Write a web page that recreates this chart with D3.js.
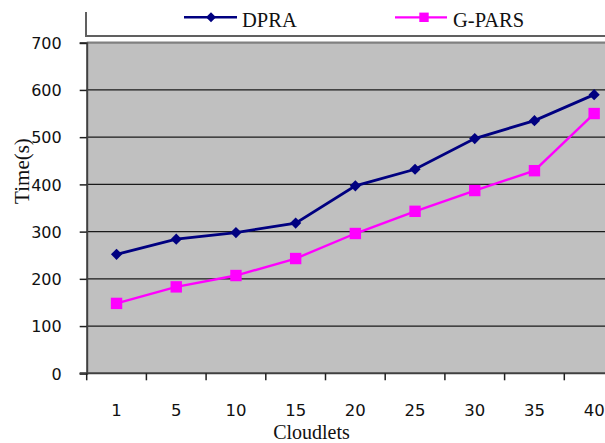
<!DOCTYPE html>
<html>
<head>
<meta charset="utf-8">
<script src="https://cdn.jsdelivr.net/npm/d3@7"></script>
<style>
  html, body { margin: 0; padding: 0; background: #fff; }
  svg { display: block; }
</style>
</head>
<body>
<svg id="chart" width="605" height="443"></svg>
<script>
const categories = ["1", "5", "10", "15", "20", "25", "30", "35", "40"];
const dpra = [252, 284, 298, 318, 397, 432, 497, 535, 590];
const gpars = [148, 183, 207, 243, 296, 343, 387, 429, 550];
const yTicks = [0, 100, 200, 300, 400, 500, 600, 700];
const seriesNames = ["DPRA", "G-PARS"];

(function () {
const svg = d3.select("#chart");
const W = 605, H = 443;
const pLeft = 86.7, bandW = 59.7;
const pRight = pLeft + bandW * categories.length;
const pTop = 42.7, pBottom = 373.3;

const x = d3.scaleBand().domain(categories).range([pLeft, pRight]).padding(0);
const y = d3.scaleLinear().domain([0, 700]).range([pBottom, pTop]);
const cx = d => x(d) + x.bandwidth() / 2;

svg.append("rect").attr("width", W).attr("height", H).attr("fill", "#fff");

// legend box (partially visible)
svg.append("path")
  .attr("d", `M${pLeft - 0.7},12 V36 H${W}`)
  .attr("fill", "none").attr("stroke", "#606060").attr("stroke-width", 2);

// plot background
svg.append("rect")
  .attr("x", pLeft).attr("y", y(700))
  .attr("width", pRight - pLeft).attr("height", y(0) - y(700))
  .attr("fill", "#C0C0C0");

// gridlines
svg.append("g").selectAll("line")
  .data(yTicks.filter(t => t > 0))
  .join("line")
  .attr("x1", pLeft).attr("x2", pRight)
  .attr("y1", d => y(d)).attr("y2", d => y(d))
  .attr("stroke", d => d === 700 ? "#808080" : "#1a1a1a")
  .attr("stroke-width", d => d === 700 ? 2.2 : 1.3);

// y axis
const yAxis = svg.append("g")
  .attr("transform", `translate(${pLeft},0)`)
  .call(d3.axisLeft(y).tickValues(yTicks).tickSize(7).tickPadding(18).tickFormat(d3.format("d")));
yAxis.select(".domain").attr("stroke", "#404040").attr("stroke-width", 2);
yAxis.selectAll(".tick line").attr("stroke", "#202020").attr("stroke-width", 1.5);
yAxis.selectAll(".tick text")
  .attr("font-family", "DejaVu Sans").attr("font-size", 16).attr("fill", "#111")
  .attr("dy", "0.36em");

// x axis
svg.append("line")
  .attr("x1", pLeft - 7).attr("x2", pRight)
  .attr("y1", pBottom).attr("y2", pBottom)
  .attr("stroke", "#404040").attr("stroke-width", 2);
svg.append("g").selectAll("line")
  .data(categories.concat(["end"]))
  .join("line")
  .attr("x1", (d, i) => i < categories.length ? x(d) : pRight)
  .attr("x2", (d, i) => i < categories.length ? x(d) : pRight)
  .attr("y1", pBottom).attr("y2", pBottom + 7)
  .attr("stroke", "#202020").attr("stroke-width", 1.5);
svg.append("g").selectAll("text")
  .data(categories)
  .join("text")
  .attr("x", d => cx(d)).attr("y", 410)
  .attr("dy", "0.36em")
  .attr("text-anchor", "middle")
  .attr("font-family", "DejaVu Sans").attr("font-size", 16.5).attr("fill", "#111")
  .text(d => d);

// axis titles
svg.append("text")
  .attr("x", 311.5).attr("y", 439)
  .attr("text-anchor", "middle")
  .attr("font-family", "Liberation Serif").attr("font-size", 20).attr("fill", "#111")
  .text("Cloudlets");
svg.append("text")
  .attr("transform", "translate(29,171) rotate(-90)")
  .attr("text-anchor", "middle")
  .attr("font-family", "Liberation Serif").attr("font-size", 21).attr("fill", "#111")
  .text("Time(s)");

// lines
const line = d3.line().x((d, i) => cx(categories[i])).y(d => y(d));
svg.append("path").datum(gpars).attr("d", line)
  .attr("fill", "none").attr("stroke", "#FF00FF").attr("stroke-width", 2.4);
svg.append("path").datum(dpra).attr("d", line)
  .attr("fill", "none").attr("stroke", "#000080").attr("stroke-width", 2.8);

// markers
function diamondPath(s) { return `M0,${-s}L${s},0L0,${s}L${-s},0Z`; }
svg.append("g").selectAll("rect")
  .data(gpars)
  .join("rect")
  .attr("x", (d, i) => cx(categories[i]) - 5.7)
  .attr("y", d => y(d) - 5.7)
  .attr("width", 11.4).attr("height", 11.4)
  .attr("fill", "#FF00FF");
svg.append("g").selectAll("path")
  .data(dpra)
  .join("path")
  .attr("transform", (d, i) => `translate(${cx(categories[i])},${y(d)})`)
  .attr("d", diamondPath(5.6))
  .attr("fill", "#000080");

// legend
const leg = [
  { name: seriesNames[0], x1: 184, x2: 237, mx: 211, tx: 242, color: "#000080", shape: "diamond" },
  { name: seriesNames[1], x1: 395, x2: 447, mx: 424, tx: 453, color: "#FF00FF", shape: "square" }
];
const ly = 17.3;
leg.forEach(l => {
  svg.append("line").attr("x1", l.x1).attr("x2", l.x2).attr("y1", ly).attr("y2", ly)
    .attr("stroke", l.color).attr("stroke-width", l.shape === "diamond" ? 2.6 : 2.2);
  if (l.shape === "diamond") {
    svg.append("path").attr("transform", `translate(${l.mx},${ly})`)
      .attr("d", diamondPath(5)).attr("fill", l.color);
  } else {
    svg.append("rect").attr("x", l.mx - 4.7).attr("y", ly - 4.7)
      .attr("width", 9.4).attr("height", 9.4).attr("fill", l.color);
  }
  svg.append("text").attr("x", l.tx).attr("y", 26.7)
    .attr("font-family", "Liberation Serif").attr("font-size", 20.5).attr("fill", "#111")
    .text(l.name);
});
})();
</script>
</body>
</html>
